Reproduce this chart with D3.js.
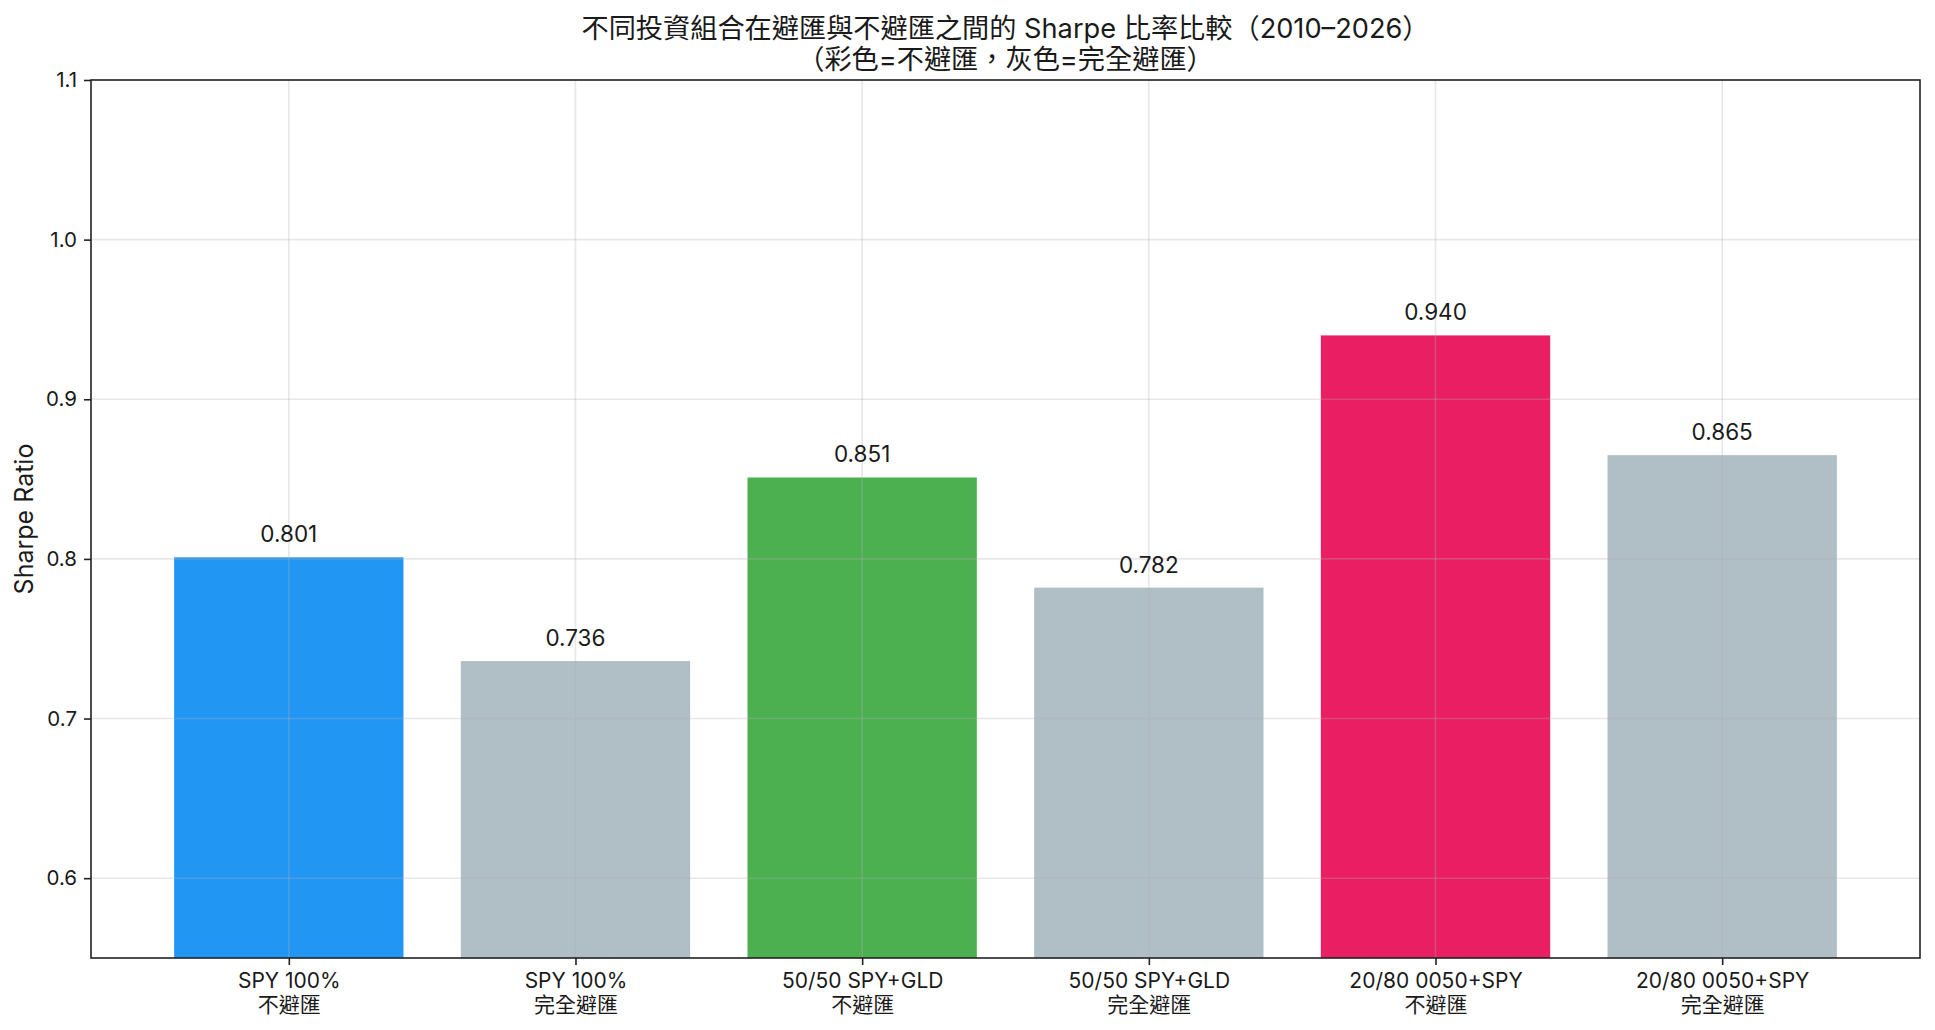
<!DOCTYPE html>
<html><head><meta charset="utf-8">
<script src="https://cdn.jsdelivr.net/npm/d3@7"></script>
<style>
html,body{margin:0;padding:0;background:#fff;}
svg{display:block;}
text{font-family:"Inter","Noto Sans CJK TC",sans-serif;fill:#1a1a1a;}
</style></head>
<body><svg id="c" width="1935" height="1030"></svg>
<script>
const categories = [
  ["SPY 100%", "不避匯"],
  ["SPY 100%", "完全避匯"],
  ["50/50 SPY+GLD", "不避匯"],
  ["50/50 SPY+GLD", "完全避匯"],
  ["20/80 0050+SPY", "不避匯"],
  ["20/80 0050+SPY", "完全避匯"]
];
const sharpe = [0.801, 0.736, 0.851, 0.782, 0.940, 0.865];
const colors = ["#2196F3", "#B0BEC5", "#4CAF50", "#B0BEC5", "#E91E63", "#B0BEC5"];
const yTicks = [0.6, 0.7, 0.8, 0.9, 1.0, 1.1];
const titleLines = ["不同投資組合在避匯與不避匯之間的 Sharpe 比率比較（2010–2026）", "（彩色=不避匯，灰色=完全避匯）"];
const yLabel = "Sharpe Ratio";

const svg = d3.select("#c");
const L = 91, R = 1920, T = 80, B = 958;
const n = sharpe.length;
const span = (n - 1) + 0.8;
const x = d3.scaleLinear().domain([-0.4 - 0.05*span, n - 1 + 0.4 + 0.05*span]).range([L, R]);
const y = d3.scaleLinear().domain([0.55, 1.1]).range([B, T]);
const bw = x(0.8) - x(0);

// bars
svg.append("g").selectAll("rect").data(sharpe).join("rect")
  .attr("x", (d,i) => x(i) - bw/2)
  .attr("width", bw)
  .attr("y", d => y(d))
  .attr("height", d => B - y(d))
  .attr("fill", (d,i) => colors[i]);

// grid (above bars)
const grid = svg.append("g").attr("stroke", "#b0b0b0").attr("stroke-opacity", 0.3).attr("stroke-width", 1.6);
grid.selectAll("line.h").data(yTicks).join("line")
  .attr("x1", L).attr("x2", R).attr("y1", d => y(d)).attr("y2", d => y(d));
grid.selectAll("line.v").data(d3.range(n)).join("line")
  .attr("y1", T).attr("y2", B).attr("x1", d => x(d)).attr("x2", d => x(d));

// axes
const yAxis = d3.axisLeft(y).tickValues(yTicks).tickFormat(d3.format(".1f")).tickSize(7).tickPadding(7);
const gy = svg.append("g").attr("transform", `translate(${L},0)`).call(yAxis);
gy.select(".domain").remove();
gy.selectAll("line").attr("stroke", "#222").attr("stroke-width", 1.6);
gy.selectAll("text").attr("font-size", 20.5).attr("fill", "#1a1a1a");

const xAxis = d3.axisBottom(x).tickValues(d3.range(n)).tickFormat("").tickSize(7);
const gx = svg.append("g").attr("transform", `translate(0,${B})`).call(xAxis);
gx.select(".domain").remove();
gx.selectAll("line").attr("stroke", "#222").attr("stroke-width", 1.6);
gx.selectAll(".tick").each(function(d) {
  const t = d3.select(this).append("text").attr("text-anchor", "middle").attr("font-size", 21).attr("fill", "#1a1a1a");
  t.append("tspan").attr("x", 0).attr("y", 30).text(categories[d][0]);
  t.append("tspan").attr("x", 0).attr("y", 54).text(categories[d][1]);
});

// frame
svg.append("rect").attr("x", L).attr("y", T).attr("width", R-L).attr("height", B-T)
  .attr("fill", "none").attr("stroke", "#222").attr("stroke-width", 1.6);

// value labels
svg.append("g").selectAll("text").data(sharpe).join("text")
  .attr("x", (d,i) => x(i))
  .attr("y", d => y(d) - 15)
  .attr("text-anchor", "middle")
  .attr("font-size", 22.5)
  .text(d => d3.format(".3f")(d));

// y label
svg.append("text").attr("transform", `translate(33,${(T+B)/2}) rotate(-90)`)
  .attr("text-anchor", "middle").attr("font-size", 25).text(yLabel);

// title
const tt = svg.append("text").attr("text-anchor", "middle").attr("font-size", 27.2);
tt.append("tspan").attr("x", (L+R)/2).attr("y", 38).text(titleLines[0]);
tt.append("tspan").attr("x", (L+R)/2).attr("y", 69).text(titleLines[1]);
</script></body></html>
